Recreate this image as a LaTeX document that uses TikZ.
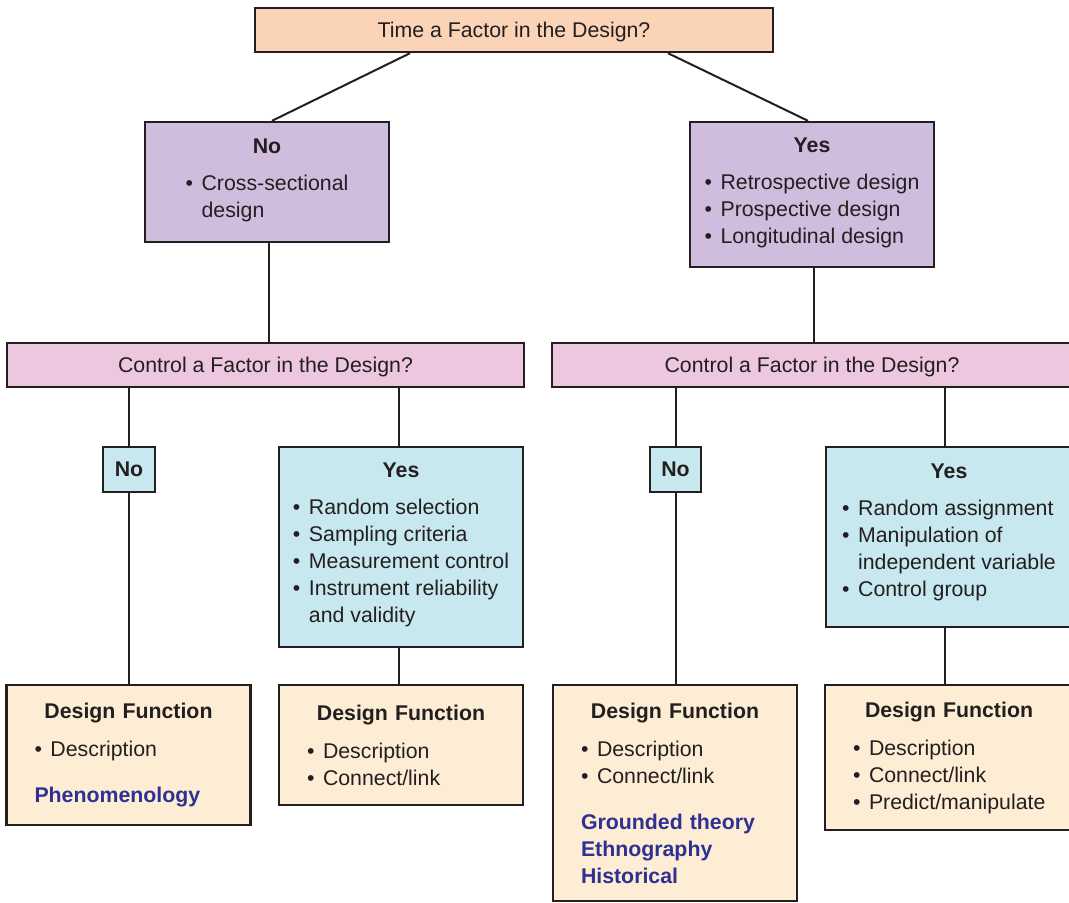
\documentclass[tikz,border=0pt]{standalone}
\usepackage{fontspec}
\setmainfont{Liberation Sans}
\usepackage{tikz}
\usetikzlibrary{positioning}
\definecolor{peach}{RGB}{251,211,183}
\definecolor{lilac}{RGB}{208,188,221}
\definecolor{rose}{RGB}{237,198,223}
\definecolor{iceblue}{RGB}{200,232,239}
\definecolor{cream}{RGB}{253,237,212}
\definecolor{method}{RGB}{46,49,146}
\definecolor{linegray}{RGB}{35,31,32}
\definecolor{ink}{RGB}{35,31,32}
\newcommand{\bul}{\makebox[8pt][l]{\textbullet}}
\newcommand{\ind}{\hspace*{8pt}}
\tikzstyle{box} = [draw=linegray, line width=1.2pt, text=ink, inner sep=0pt,
  font=\fontsize{10.65}{13.5}\selectfont]
\tikzstyle{question} = [box, align=center, minimum height=22pt, text height=9.8pt, text depth=2.2pt]
\tikzstyle{stage} = [box, align=center]
\tikzstyle{fn} = [box, fill=cream, inner xsep=14pt, text width=94pt, align=left]
\tikzstyle{wire} = [draw=linegray, line width=1pt]

\begin{document}
\begin{tikzpicture}[x=0.5pt, y=-0.5pt]
\useasboundingbox (0,0) rectangle (1069,902);
\clip (0,0) rectangle (1069,902);
% time question and its two answers
\node[question, fill=peach, minimum width=259pt] (time) at (514,30) {Time a Factor in the Design?};
\node[stage, fill=lilac, minimum width=122pt, minimum height=60pt] (noTime) at (267,182)
  {\textbf{No}\\[8pt]\begin{tabular}{@{}l@{}}\bul Cross-sectional\\ \ind design\end{tabular}};
\node[stage, fill=lilac, minimum width=122pt, minimum height=72.5pt] (yesTime) at (812,194.5)
  {\textbf{Yes}\\[8pt]\begin{tabular}{@{}l@{}}\bul Retrospective design\\ \bul Prospective design\\ \bul Longitudinal design\end{tabular}};
% control questions
\node[question, fill=rose, minimum width=258.5pt] (ctlL) at (265.5,365) {Control a Factor in the Design?};
\node[question, fill=rose, minimum width=260pt] (ctlR) at (812,365) {Control a Factor in the Design?};
\node[stage, fill=iceblue, minimum width=26pt, minimum height=22.5pt] (noCtlL) at (129,469.5) {\textbf{No}};
\node[stage, fill=iceblue, minimum width=122pt, minimum height=100pt] (yesCtlL) at (401,547)
  {\textbf{Yes}\\[8pt]\begin{tabular}{@{}l@{}}\bul Random selection\\ \bul Sampling criteria\\ \bul Measurement control\\ \bul Instrument reliability\\ \ind and validity\end{tabular}};
\node[stage, fill=iceblue, minimum width=25.5pt, minimum height=22.5pt] (noCtlR) at (675.5,469.5) {\textbf{No}};
\node[stage, fill=iceblue, minimum width=123pt, minimum height=90pt] (yesCtlR) at (949,537)
  {\textbf{Yes}\\[8pt]\begin{tabular}{@{}l@{}}\bul Random assignment\\ \bul Manipulation of\\ \ind independent variable\\ \bul Control group\end{tabular}\\[2pt]};
% design functions
\node[fn, minimum height=70pt] (fnA) at (128.5,755)
  {{\hfill\bfseries Design Function\hfill\null}\\[5.5pt]\bul Description\\[9.5pt]{\color{method}\bfseries Phenomenology}};
\node[fn, minimum height=60pt] (fnB) at (401,745)
  {{\hfill\bfseries Design Function\hfill\null}\\[5.5pt]\bul Description\\ \bul Connect/link};
\node[fn, minimum height=108pt] (fnC) at (675,793)
  {{\hfill\bfseries Design Function\hfill\null}\\[5.5pt]\bul Description\\ \bul Connect/link\\[9.5pt]{\color{method}\bfseries Grounded theory\\ Ethnography\\ Historical}};
\node[fn, text width=96pt, minimum height=72.5pt] (fnD) at (949,757.5)
  {{\hfill\bfseries Design Function\hfill\null}\\[5.5pt]\bul Description\\ \bul Connect/link\\ \bul Predict/manipulate};
% connectors
\draw[wire] ([xshift=-52pt]time.south) -- ([xshift=2.5pt]noTime.north);
\draw[wire] ([xshift=77pt]time.south) -- ([xshift=-2pt]yesTime.north);
\draw[wire] ([xshift=1pt]noTime.south) -- ([xshift=1pt]noTime.south |- ctlL.north);
\draw[wire] ([xshift=1pt]yesTime.south) -- ([xshift=1pt]yesTime.south |- ctlR.north);
\draw[wire] (noCtlL.north |- ctlL.south) -- (noCtlL.north);
\draw[wire] ([xshift=-1pt]yesCtlL.north |- ctlL.south) -- ([xshift=-1pt]yesCtlL.north);
\draw[wire] (noCtlR.north |- ctlR.south) -- (noCtlR.north);
\draw[wire] ([xshift=-2pt]yesCtlR.north |- ctlR.south) -- ([xshift=-2pt]yesCtlR.north);
\draw[wire] (noCtlL.south) -- (noCtlL.south |- fnA.north);
\draw[wire] ([xshift=-1pt]yesCtlL.south) -- ([xshift=-1pt]yesCtlL.south |- fnB.north);
\draw[wire] (noCtlR.south) -- (noCtlR.south |- fnC.north);
\draw[wire] ([xshift=-2pt]yesCtlR.south) -- ([xshift=-2pt]yesCtlR.south |- fnD.north);
\end{tikzpicture}
\end{document}
